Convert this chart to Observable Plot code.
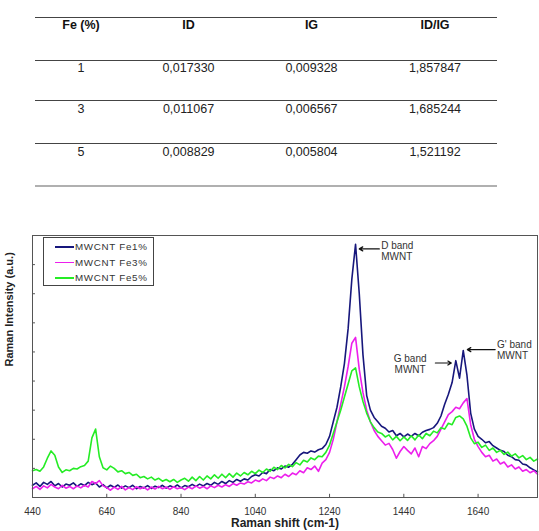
<!DOCTYPE html>
<html>
<head>
<meta charset="utf-8">
<script src="https://cdn.jsdelivr.net/npm/d3@7"></script>
<script src="https://cdn.jsdelivr.net/npm/@observablehq/plot@0.6"></script>
<style>
  html, body { margin: 0; padding: 0; background: #fff; }
  #page { position: relative; width: 539px; height: 531px; overflow: hidden; font-family: Arial, "Liberation Sans", sans-serif; }
  .tline { position: absolute; left: 35px; width: 462px; height: 1px; background: #444; }
  .tcell { position: absolute; width: 120px; text-align: center; font-size: 12.5px; line-height: 14px; color: #222; }
  #chart { position: absolute; left: 0; top: 225px; }
  #legend { position: absolute; left: 43px; top: 237px; width: 111px; height: 49px; border: 1px solid #444; background: #fff; box-sizing: border-box; }
  .lrow { position: absolute; left: 0; height: 12px; font-size: 9.8px; letter-spacing: 0.7px; color: #333; line-height: 12px; white-space: nowrap; }
  .lrow span.sw { position: absolute; left: 11px; top: 5px; width: 19px; height: 1.6px; }
  .lrow span.lt { position: absolute; left: 31px; top: 0; }
</style>
</head>
<body>
<div id="page"></div>
<script>
// ---------- table data ----------
const tableHeader = ["Fe (%)", "ID", "IG", "ID/IG"];
const tableFe = ["1", "3", "5"];
const tableID = ["0,017330", "0,011067", "0,008829"];
const tableIG = ["0,009328", "0,006567", "0,005804"];
const tableRatio = ["1,857847", "1,685244", "1,521192"];

// ---------- spectra data ----------
const seriesNames = ["MWCNT Fe1%", "MWCNT Fe3%", "MWCNT Fe5%"];
const seriesColors = ["#17177c", "#ec1fec", "#25ec25"];
const wavenumbers = d3.range(440, 1801, 10); // sampling grid, cm-1
const xTicks = [440, 640, 840, 1040, 1240, 1440, 1640];
const yTicks = [1, 2, 3, 4, 5, 6, 7, 8];

const fe1 = [
  0.42,0.50,0.38,0.52,0.45,0.55,0.40,0.48,0.36,0.46,
  0.42,0.50,0.38,0.47,0.41,0.52,0.44,0.50,0.36,0.44,
  0.33,0.42,0.35,0.43,0.32,0.40,0.34,0.42,0.30,0.38,
  0.33,0.41,0.31,0.39,0.34,0.42,0.32,0.40,0.35,0.43,
  0.33,0.41,0.37,0.45,0.38,0.46,0.40,0.48,0.42,0.52,
  0.45,0.55,0.48,0.58,0.52,0.62,0.56,0.64,0.60,0.72,
  0.78,0.74,0.86,0.82,0.96,0.92,1.02,0.98,1.08,1.04,
  1.14,1.30,1.46,1.55,1.52,1.60,1.56,1.64,1.68,1.82,
  2.10,2.60,3.10,3.80,4.60,5.80,7.50,8.70,7.00,4.90,
  3.50,3.00,2.75,2.60,2.45,2.38,2.25,2.30,2.12,2.20,
  2.08,2.18,2.10,2.20,2.12,2.24,2.30,2.34,2.40,2.55,
  2.80,3.20,3.55,3.95,4.70,4.10,5.05,4.20,2.90,2.35,
  2.10,2.00,1.88,1.92,1.78,1.70,1.62,1.58,1.45,1.40,
  1.30,1.28,1.15,1.12,1.02,0.95,0.88
];
const fe3 = [
  0.30,0.38,0.28,0.40,0.33,0.45,0.36,0.30,0.42,0.32,
  0.38,0.30,0.40,0.33,0.42,0.36,0.55,0.48,0.58,0.40,
  0.34,0.25,0.36,0.28,0.38,0.26,0.34,0.27,0.37,0.30,
  0.35,0.26,0.36,0.29,0.38,0.30,0.36,0.28,0.37,0.30,
  0.34,0.27,0.36,0.30,0.40,0.32,0.38,0.30,0.40,0.34,
  0.42,0.36,0.44,0.38,0.48,0.42,0.50,0.46,0.54,0.50,
  0.60,0.55,0.64,0.58,0.70,0.65,0.74,0.68,0.80,0.72,
  0.84,0.78,0.92,0.85,1.02,0.96,1.08,0.90,1.18,1.30,
  1.55,2.00,2.60,3.20,3.80,4.50,5.30,5.50,4.40,3.60,
  3.00,2.60,2.30,2.10,1.95,1.80,1.86,1.65,1.35,1.58,
  1.75,1.62,1.50,1.70,1.40,1.75,1.68,1.85,1.95,2.10,
  2.35,2.60,2.85,2.95,3.10,3.05,3.25,3.40,2.50,2.00,
  1.75,1.55,1.40,1.45,1.25,1.32,1.15,1.22,1.05,1.12,
  0.98,1.05,0.90,0.96,0.85,0.92,0.80
];
const fe5 = [
  0.92,0.96,0.90,1.05,1.35,1.60,1.45,1.05,0.86,0.95,
  0.92,1.00,0.98,1.06,1.10,1.25,2.05,2.35,1.40,1.02,
  0.95,1.08,1.00,0.88,0.92,0.82,0.86,0.76,0.80,0.68,
  0.72,0.64,0.70,0.60,0.66,0.56,0.62,0.54,0.62,0.52,
  0.60,0.66,0.56,0.70,0.58,0.72,0.60,0.74,0.64,0.78,
  0.66,0.80,0.68,0.82,0.70,0.84,0.74,0.86,0.78,0.90,
  0.82,0.94,0.86,0.98,0.90,1.04,0.96,1.10,1.02,1.14,
  1.06,1.20,1.12,1.28,1.22,1.36,1.30,1.42,1.40,1.55,
  1.80,2.20,2.60,3.00,3.45,3.90,4.35,4.45,3.80,3.30,
  2.90,2.60,2.40,2.25,2.20,2.08,2.15,1.98,2.10,1.95,
  2.08,1.96,2.12,1.98,2.15,2.02,2.20,2.12,2.28,2.22,
  2.40,2.35,2.55,2.50,2.75,2.80,2.70,2.45,2.05,1.85,
  1.90,1.72,1.80,1.62,1.70,1.55,1.62,1.48,1.56,1.42,
  1.50,1.36,1.44,1.30,1.38,1.25,1.32
];

// annotations
const annotLabels = ["D band\nMWNT", "G band\nMWNT", "G' band\nMWNT"];
const annotX = [1379, 1457, 1691];
const annotY = [8.48, 4.59, 5.07];
const annotAnchor = ["start", "middle", "start"];
const arrowFrom = [[1374, 8.54], [1525, 4.62], [1686, 5.08]];
const arrowTo = [[1320, 8.54], [1568, 4.62], [1611, 5.08]];

// ---------- build table ----------
const page = document.getElementById("page");
const lineYs = [17, 60, 100, 143];
lineYs.forEach(y => {
  const d = document.createElement("div");
  d.className = "tline"; d.style.top = y + "px";
  page.appendChild(d);
});
const last = document.createElement("div");
last.className = "tline"; last.style.top = "185px"; last.style.height = "2px"; last.style.background = "#b0b0b0";
page.appendChild(last);
const colX = [81, 188.5, 311.5, 435];
const rowY = [25, 68, 109, 152];
function cell(txt, cx, cy, bold) {
  const d = document.createElement("div");
  d.className = "tcell";
  d.textContent = txt;
  d.style.left = (cx - 60) + "px";
  d.style.top = (cy - 7) + "px";
  if (bold) { d.style.fontWeight = "bold"; d.style.color = "#111"; }
  page.appendChild(d);
}
tableHeader.forEach((h, i) => cell(h, colX[i], rowY[0], true));
tableFe.forEach((v, r) => {
  cell(v, colX[0], rowY[r + 1]);
  cell(tableID[r], colX[1], rowY[r + 1]);
  cell(tableIG[r], colX[2], rowY[r + 1]);
  cell(tableRatio[r], colX[3], rowY[r + 1]);
});

// ---------- chart ----------
const allSeries = [fe1, fe3, fe5];
const data = [];
allSeries.forEach((arr, s) => {
  wavenumbers.forEach((w, i) => data.push({series: seriesNames[s], x: w, y: arr[i]}));
});
const annots = annotLabels.map((t, i) => ({t, x: annotX[i], y: annotY[i], a: annotAnchor[i]}));
const arrows = arrowFrom.map((f, i) => ({x1: f[0], y1: f[1], x2: arrowTo[i][0], y2: arrowTo[i][1]}));
const textStyle = {x: "x", y: "y", text: "t", fontSize: 10, fill: "#333", lineHeight: 1.15};

const chart = Plot.plot({
  width: 539,
  height: 306,
  marginTop: 10,
  marginBottom: 34,
  marginLeft: 32,
  marginRight: 2,
  style: {fontFamily: 'Arial, "Liberation Sans", sans-serif', background: "transparent"},
  x: {domain: [440, 1800], axis: null},
  y: {domain: [0, 9], axis: null},
  color: {domain: seriesNames, range: seriesColors},
  marks: [
    Plot.ruleY(yTicks, {x1: 440, x2: 448, stroke: "#555"}),
    Plot.ruleX(xTicks, {y1: 0, y2: 0.11, stroke: "#555"}),
    Plot.line(data, {x: "x", y: "y", z: "series", stroke: "series", strokeWidth: 1.6}),
    Plot.frame({stroke: "#555"}),
    Plot.axisX(xTicks, {tickSize: 0, tickPadding: 10, fontSize: 10, fill: "#333", label: null, tickFormat: d => String(d)}),
    Plot.text(["Raman shift (cm-1)"], {frameAnchor: "bottom", dy: 29, fontSize: 12, fontWeight: "bold", fill: "#222"}),
    Plot.text(["Raman Intensity (a.u.)"], {frameAnchor: "left", rotate: -90, dx: -23, fontSize: 11, fontWeight: "bold", fill: "#222"}),
    Plot.text(annots.filter(d => d.a === "start"), {...textStyle, textAnchor: "start"}),
    Plot.text(annots.filter(d => d.a === "middle"), {...textStyle, textAnchor: "middle"}),
    Plot.arrow(arrows, {x1: "x1", y1: "y1", x2: "x2", y2: "y2", stroke: "#111", strokeWidth: 1.2, headLength: 5})
  ]
});
chart.id = "chart";
page.appendChild(chart);

// ---------- legend ----------
const legend = document.createElement("div");
legend.id = "legend";
const rowsY = [3, 18.5, 34];
seriesNames.forEach((n, i) => {
  const r = document.createElement("div");
  r.className = "lrow";
  r.style.top = rowsY[i] + "px";
  const sw = document.createElement("span");
  sw.className = "sw"; sw.style.background = seriesColors[i];
  const lt = document.createElement("span");
  lt.className = "lt"; lt.textContent = n;
  r.appendChild(sw); r.appendChild(lt);
  legend.appendChild(r);
});
page.appendChild(legend);
</script>
</body>
</html>
